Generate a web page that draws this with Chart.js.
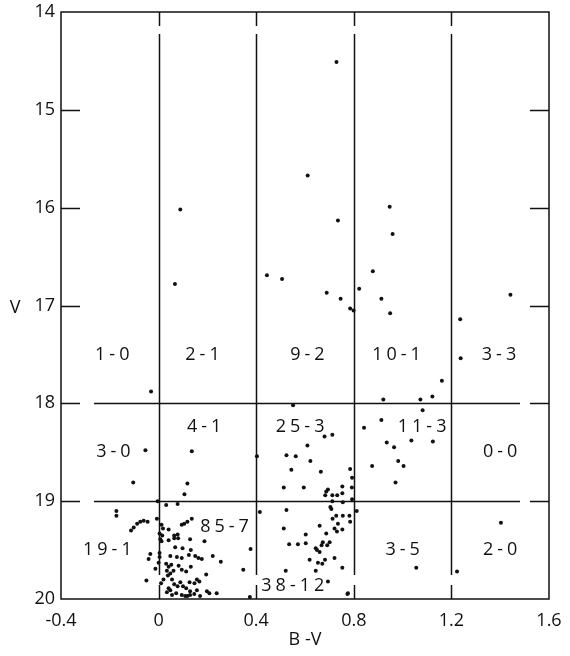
<!DOCTYPE html>
<html>
<head>
<meta charset="utf-8">
<script src="https://cdn.jsdelivr.net/npm/chart.js@4/dist/chart.umd.min.js"></script>
<style>
  html, body { margin: 0; padding: 0; background: #fff; }
  #wrap { width: 570px; height: 656px; }
</style>
</head>
<body>
<div id="wrap"><canvas id="cmd"></canvas></div>
<script>
// colour index B-V and magnitude V of each star
const starBV = [
  0.089, 0.067, 0.444, 0.506, 0.729, 0.611, 0.947, 0.735, 0.959, 0.878,
  0.689, 0.822, 1.442, 0.746, 0.913, 0.785, 0.799, 0.949, 1.236, 1.238,
  1.161, 1.122, 1.073, 0.921, 1.082, 0.913, 0.842, 1.036, 1.124, 0.935,
  0.965, 0.982, 1.004, 0.875, 0.971, 1.403, 1.056, 1.223, 0.812, 0.774,
  -0.031, 0.551, -0.054, 0.136, 0.403, -0.104, 0.118, 0.106,
  -0.004, 0.031, 0.078, 0.415, -0.173, -0.173,
  -0.113, -0.102, -0.088, -0.075, -0.061, -0.045,
  -0.007, 0.012, 0.018, 0.041, 0.095, 0.105, 0.118, 0.136,
  0.004, 0.015, 0.007, 0.012, 0.064, 0.078, 0.080, 0.064,
  0.041, 0.129, 0.188, -0.034, -0.041, 0.004, 0.004,
  0.048, 0.068, 0.098, 0.075, 0.095, 0.124, 0.132,
  0.150, 0.163, 0.177, 0.222, 0.255, 0.377, 0.347, -0.013, 0.000,
  0.031, 0.041, 0.052, 0.034, 0.048, 0.061, 0.038,
  0.082, 0.095, 0.132, 0.113, 0.195, 0.157, 0.167, 0.147, 0.127,
  -0.050, 0.010, 0.020, 0.055, 0.064, 0.078, 0.089, 0.100, 0.113, 0.041,
  0.034, 0.048, 0.055, 0.072, 0.095, 0.109, 0.118, 0.129, 0.146,
  0.129, 0.157, 0.198, 0.208, 0.238, 0.374, 0.170,
  0.680, 0.712, 0.610, 0.524, 0.562, 0.622, 0.544, 0.665, 0.785, 0.793,
  0.513, 0.595, 0.792, 0.694, 0.687, 0.683, 0.712, 0.732, 0.753, 0.753,
  0.793, 0.712, 0.755, 0.704, 0.708, 0.524, 0.728, 0.755, 0.782, 0.713,
  0.735, 0.753, 0.721, 0.785, 0.660, 0.731, 0.513, 0.687, 0.603, 0.673,
  0.668, 0.701, 0.691, 0.535, 0.571, 0.603, 0.649, 0.660, 0.644, 0.619,
  0.653, 0.671, 0.682, 0.721, 0.753, 0.644, 0.521, 0.694, 0.776
];
const starV = [
  16.02, 16.78, 16.69, 16.73, 14.51, 15.67, 15.99, 16.13, 16.27, 16.65,
  16.87, 16.83, 16.89, 16.93, 16.93, 17.03, 17.05, 17.08, 17.14, 17.54,
  17.77, 17.93, 17.96, 17.96, 18.07, 18.17, 18.25, 18.38, 18.39, 18.40,
  18.45, 18.59, 18.64, 18.64, 18.81, 19.22, 19.68, 19.72, 19.10, 19.95,
  17.88, 18.02, 18.48, 18.49, 18.54, 18.81, 18.82, 18.93,
  19.00, 19.04, 19.03, 19.11, 19.10, 19.15,
  19.30, 19.27, 19.23, 19.21, 19.20, 19.21,
  19.18, 19.24, 19.28, 19.29, 19.24, 19.23, 19.21, 19.18,
  19.33, 19.35, 19.39, 19.41, 19.35, 19.34, 19.38, 19.38,
  19.40, 19.39, 19.41, 19.54, 19.59, 19.53, 19.57,
  19.56, 19.47, 19.48, 19.57, 19.58, 19.55, 19.50,
  19.56, 19.58, 19.59, 19.56, 19.62, 19.49, 19.70, 19.69, 19.63,
  19.64, 19.67, 19.65, 19.71, 19.74, 19.71, 19.76,
  19.66, 19.70, 19.67, 19.72, 19.75, 19.80, 19.82, 19.84, 19.83,
  19.81, 19.84, 19.80, 19.80, 19.85, 19.87, 19.83, 19.87, 19.89, 19.89,
  19.93, 19.91, 19.96, 19.94, 19.96, 19.97, 19.97, 19.96, 19.95,
  19.92, 19.91, 19.92, 19.94, 19.94, 19.98, 19.97,
  18.34, 18.32, 18.43, 18.53, 18.54, 18.59, 18.68, 18.70, 18.67, 18.76,
  18.86, 18.86, 18.86, 18.88, 18.90, 18.94, 18.94, 18.94, 18.92, 18.85,
  18.98, 19.00, 19.01, 19.06, 19.08, 19.09, 19.15, 19.15, 19.15, 19.18,
  19.23, 19.29, 19.28, 19.21, 19.25, 19.31, 19.28, 19.33, 19.34, 19.42,
  19.45, 19.42, 19.45, 19.44, 19.44, 19.43, 19.50, 19.52, 19.48, 19.60,
  19.63, 19.64, 19.60, 19.58, 19.68, 19.71, 19.71, 19.82, 19.94
];

// box counts written in each cell, with their place in data units
const cellLabels = ['1-0', '2-1', '9-2', '10-1', '3-3', '3-0', '4-1', '25-3', '11-3', '0-0', '19-1', '85-7', '38-12', '3-5', '2-0'];
const cellLabelBV = [-0.19, 0.18, 0.61, 0.975, 1.395, -0.185, 0.187, 0.58, 1.08, 1.40, -0.21, 0.27, 0.55, 1.00, 1.40];
const cellLabelV = [17.5, 17.5, 17.5, 17.5, 17.5, 18.5, 18.24, 18.24, 18.24, 18.5, 19.5, 19.26, 19.87, 19.5, 19.5];

const xTicks = [-0.4, 0, 0.4, 0.8, 1.2, 1.6];
const gridBV = [0, 0.4, 0.8, 1.2];
const gridV = [18, 19];
const minorV = [15, 16, 17];

const FONT = "'Open Sans', 'Liberation Sans', sans-serif";

const points = starBV.map((bv, i) => ({ x: bv, y: starV[i] }));

// border, broken grid lines, inner ticks, the V label and the cell counts
const framePlugin = {
  id: 'frame',
  afterDatasetsDraw(chart) {
    const ctx = chart.ctx;
    const a = chart.chartArea;
    const xs = chart.scales.x;
    const ys = chart.scales.y;
    ctx.save();
    ctx.strokeStyle = '#111';
    ctx.lineWidth = 1.5;
    ctx.strokeRect(a.left, a.top, a.right - a.left, a.bottom - a.top);

    ctx.beginPath();
    gridBV.forEach(v => {
      const px = Math.round(xs.getPixelForValue(v)) + 0.5;
      ctx.moveTo(px, a.top); ctx.lineTo(px, a.top + 14);
      ctx.moveTo(px, a.top + 22); ctx.lineTo(px, a.bottom - 24);
      ctx.moveTo(px, a.bottom - 14); ctx.lineTo(px, a.bottom);
    });
    gridV.forEach(v => {
      const py = Math.round(ys.getPixelForValue(v)) + 0.5;
      ctx.moveTo(a.left, py); ctx.lineTo(a.left + 19, py);
      ctx.moveTo(a.left + 33, py); ctx.lineTo(a.right - 29, py);
      ctx.moveTo(a.right - 19, py); ctx.lineTo(a.right, py);
    });
    minorV.forEach(v => {
      const py = Math.round(ys.getPixelForValue(v)) + 0.5;
      ctx.moveTo(a.left, py); ctx.lineTo(a.left + 19, py);
      ctx.moveTo(a.right - 19, py); ctx.lineTo(a.right, py);
    });
    ctx.stroke();

    ctx.fillStyle = '#111';
    ctx.font = '18px ' + FONT;
    ctx.textAlign = 'center';
    ctx.textBaseline = 'middle';
    ctx.fillText('V', 15, (a.top + a.bottom) / 2 + 2);

    ctx.letterSpacing = '4px';
    cellLabels.forEach((t, i) => {
      ctx.fillText(t, xs.getPixelForValue(cellLabelBV[i]) + 2, ys.getPixelForValue(cellLabelV[i]));
    });
    ctx.restore();
  }
};

new Chart(document.getElementById('cmd'), {
  type: 'scatter',
  data: {
    datasets: [{
      data: points,
      backgroundColor: '#111',
      borderWidth: 0,
      pointRadius: 2,
      pointHoverRadius: 2
    }]
  },
  options: {
    responsive: true,
    maintainAspectRatio: false,
    animation: false,
    events: [],
    layout: { padding: { top: 12, right: 21, left: 0, bottom: 0 } },
    plugins: { legend: { display: false }, tooltip: { enabled: false } },
    scales: {
      x: {
        type: 'linear',
        min: -0.4,
        max: 1.6,
        afterBuildTicks: scale => { scale.ticks = xTicks.map(v => ({ value: v })); },
        afterFit: scale => {
          scale.height = 57;
          scale.paddingLeft = 0;
          scale.paddingRight = 0;
        },
        grid: { display: false, drawTicks: false },
        border: { display: false },
        ticks: {
          color: '#111',
          padding: 11,
          maxRotation: 0,
          font: { family: FONT, size: 18 },
          callback: v => (Math.abs(v) < 1e-9 ? '0' : v.toFixed(1))
        },
        title: {
          display: true,
          text: 'B -V',
          color: '#111',
          font: { family: FONT, size: 18 },
          padding: { top: 0, bottom: 5 }
        }
      },
      y: {
        type: 'linear',
        reverse: true,
        min: 14,
        max: 20,
        afterFit: scale => {
          scale.width = 61;
          scale.paddingTop = 0;
          scale.paddingBottom = 0;
        },
        grid: { display: false, drawTicks: false },
        border: { display: false },
        ticks: {
          color: '#111',
          padding: 6,
          stepSize: 1,
          font: { family: FONT, size: 18 }
        }
      }
    }
  },
  plugins: [framePlugin]
});
</script>
</body>
</html>
